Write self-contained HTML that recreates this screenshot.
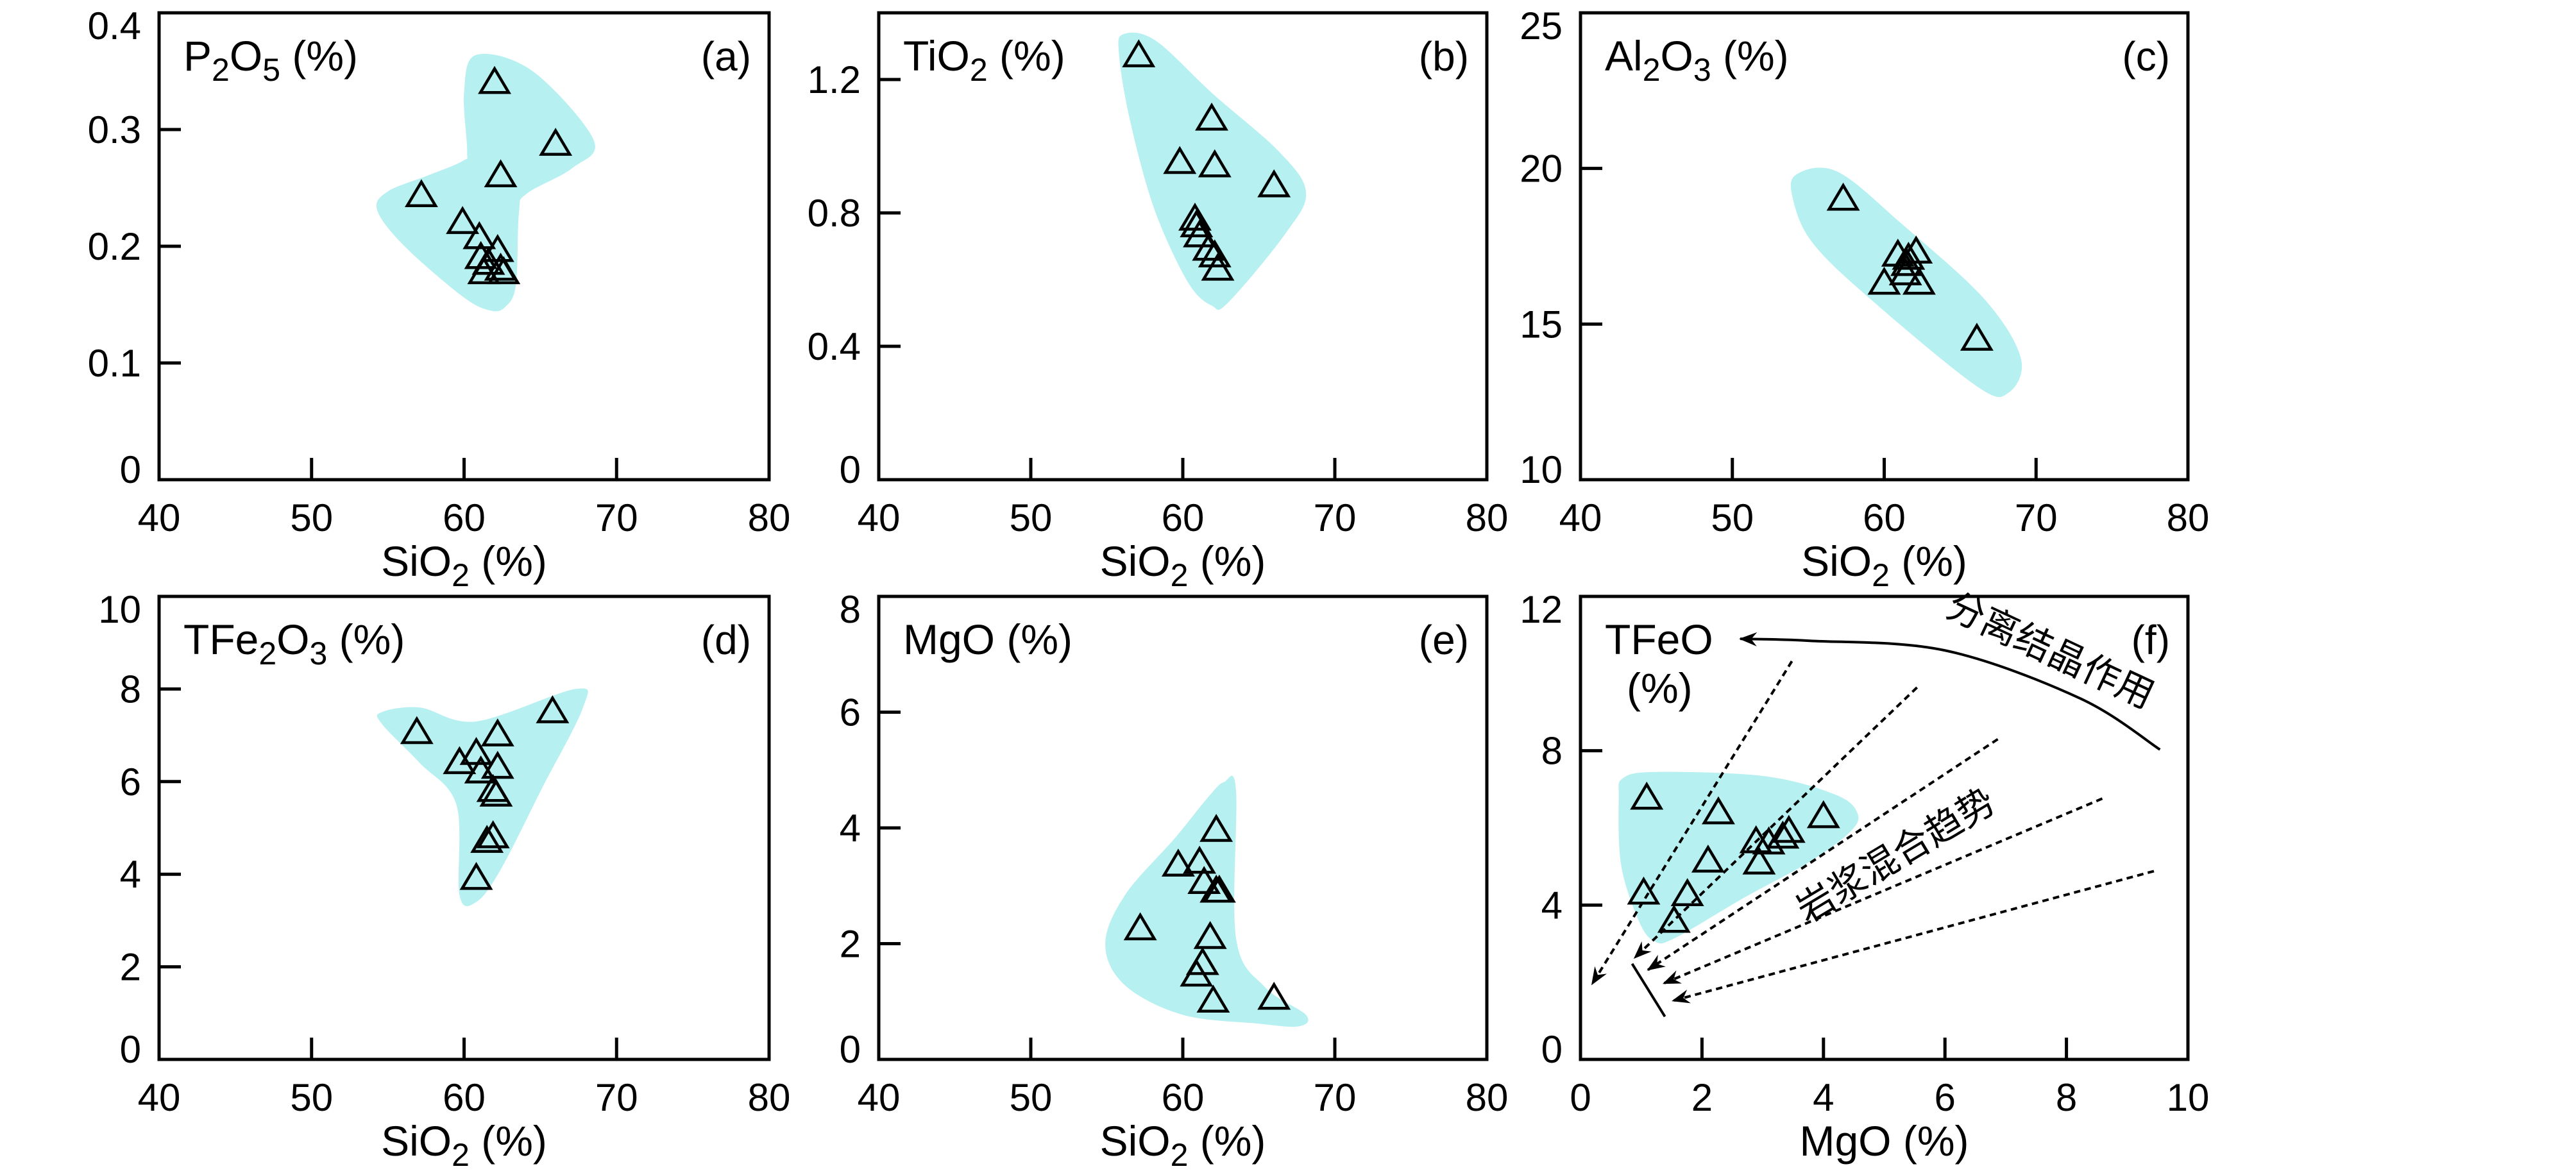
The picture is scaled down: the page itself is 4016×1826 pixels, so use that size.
<!DOCTYPE html>
<html><head><meta charset="utf-8">
<style>
html,body{margin:0;padding:0;background:#fff;}
svg{display:block;}
text{font-family:"Liberation Sans","Noto Sans CJK SC",sans-serif;fill:#000;}
</style></head>
<body>
<svg id="chart" width="4016" height="1826" viewBox="0 0 4016 1826" xmlns="http://www.w3.org/2000/svg">
<defs>
<marker id="arr" markerWidth="40" markerHeight="30" refX="0" refY="15" orient="auto" markerUnits="userSpaceOnUse" viewBox="-30 0 40 30">
<path d="M2,15 L-26,4 L-17,15 L-26,26 Z" fill="#000"/>
</marker>
</defs>
</svg>
<script>
// ---------- data ----------
const aX=[62.0,66.0,62.4,57.2,59.9,61.0,62.2,61.1,61.6,61.3,62.4,62.6];
const aY=[0.34,0.287,0.26,0.243,0.22,0.207,0.196,0.19,0.185,0.177,0.18,0.177];
const bX=[57.1,61.9,59.8,62.1,66.0,60.8,60.9,61.1,61.7,62.1,62.3];
const bY=[1.27,1.08,0.95,0.94,0.88,0.78,0.76,0.73,0.69,0.67,0.63];
const cX=[57.3,60.9,61.6,62.1,60.0,61.4,62.3,61.5,66.1];
const cY=[19.0,17.2,17.1,17.3,16.3,16.6,16.3,16.9,14.5];
const dX=[56.9,59.7,60.8,62.2,65.8,61.1,62.2,61.9,62.1,61.5,61.9,60.8];
const dY=[7.05,6.4,6.6,7.0,7.5,6.2,6.3,5.8,5.7,4.7,4.8,3.9];
const eX=[62.2,59.7,61.1,61.4,62.2,62.4,57.2,61.8,61.3,60.9,62.0,66.0];
const eY=[3.95,3.35,3.4,3.05,2.9,2.9,2.25,2.1,1.65,1.45,1.0,1.05];
const fX=[1.09,2.27,4.0,3.43,3.33,3.1,2.89,2.1,2.94,1.04,1.76,1.54];
const fY=[6.76,6.38,6.28,5.9,5.75,5.6,5.63,5.13,5.08,4.3,4.26,3.57];
// field outlines (data coords)
const aHullX=[60.8,64.5,68.5,67.1,64.1,63.6,63.4,62.7,61.7,59.9,56.1,54.3,55.0,57.5,59.9,60.2,60.0];
const aHullY=[0.364,0.35,0.291,0.267,0.245,0.229,0.167,0.148,0.145,0.157,0.2,0.231,0.247,0.26,0.273,0.282,0.332];
const bHullX=[56.1,58.2,62.0,66.3,68.1,66.8,63.0,61.9,60.3,58.1,56.5,55.8];
const bHullY=[1.336,1.317,1.156,0.985,0.863,0.741,0.532,0.522,0.595,0.815,1.083,1.278];
const cHullX=[54.2,56.9,61.2,66.6,69.0,68.2,66.1,59.1,55.3,54.0];
const cHullY=[19.8,19.9,18.2,15.8,13.9,12.8,13.0,15.8,17.6,19.0];
const dHullX=[54.6,57.1,60.8,67.3,67.8,65.1,62.4,60.8,59.7,59.5,57.1,54.6];
const dHullY=[7.5,7.6,7.3,8.0,7.6,5.85,4.1,3.4,3.55,5.5,6.4,7.25];
const eHullX=[62.7,63.5,63.5,65.4,68.1,67.6,64.9,60.0,56.2,54.9,56.2,59.5,61.6];
const eHullY=[4.79,4.65,2.1,1.25,0.77,0.57,0.62,0.77,1.28,1.99,2.84,3.83,4.51];
const fHullX=[0.7,1.26,3.04,4.2,4.56,4.44,3.78,2.67,1.56,1.22,0.96,0.67,0.63];
const fHullY=[7.29,7.45,7.34,6.86,6.38,5.9,5.13,4.17,3.15,3.06,3.59,5.03,6.76];
// panel f trend lines
const mixStartX=[3.48,5.54,6.87,8.59,9.44];
const mixStartY=[10.32,9.64,8.3,6.76,4.88];
const mixEndX=[0.19,0.89,1.11,1.37,1.52];
const mixEndY=[1.95,2.63,2.32,1.97,1.52];
const fcCurveX=[9.54,8.22,6.0,3.78,2.63];
const fcCurveY=[8.03,9.36,10.6,10.85,10.9];
const endMemberX=[0.85,1.39];
const endMemberY=[2.48,1.11];
// ticks
const siTicks=[50,60,70];
const siLabels=[40,50,60,70,80];
const aTicks=[0.1,0.2,0.3]; const aLabels=["0","0.1","0.2","0.3","0.4"]; const aLabelVals=[0,0.1,0.2,0.3,0.4];
const bTicks=[0.4,0.8,1.2]; const bLabels=["0","0.4","0.8","1.2"]; const bLabelVals=[0,0.4,0.8,1.2];
const cTicks=[15,20]; const cLabels=["10","15","20","25"]; const cLabelVals=[10,15,20,25];
const dTicks=[2,4,6,8]; const dLabels=["0","2","4","6","8","10"]; const dLabelVals=[0,2,4,6,8,10];
const eTicks=[2,4,6]; const eLabels=["0","2","4","6","8"]; const eLabelVals=[0,2,4,6,8];
const fTicks=[4,8]; const fLabels=["0","4","8","12"]; const fLabelVals=[0,4,8,12];
const fXTicks=[2,4,6,8]; const fXLabels=[0,2,4,6,8,10];

const NS="http://www.w3.org/2000/svg";
const svg=document.getElementById('chart');
function mk(tag,attrs,parent){const e=document.createElementNS(NS,tag);for(const k in attrs)e.setAttribute(k,attrs[k]);(parent||svg).appendChild(e);return e;}
function smooth(pts){
  const n=pts.length;let d=`M${pts[0][0]},${pts[0][1]}`;
  for(let i=0;i<n;i++){const p0=pts[(i-1+n)%n],p1=pts[i],p2=pts[(i+1)%n],p3=pts[(i+2)%n];
    const c1=[p1[0]+(p2[0]-p0[0])/6,p1[1]+(p2[1]-p0[1])/6],c2=[p2[0]-(p3[0]-p1[0])/6,p2[1]-(p3[1]-p1[1])/6];
    d+=` C${c1[0]},${c1[1]} ${c2[0]},${c2[1]} ${p2[0]},${p2[1]}`;}
  return d+'Z';
}
function panel(o){
  const g=mk('g',{});
  
  
  const sx=v=>o.x0+(v-o.xmin)/(o.xmax-o.xmin)*(o.x1-o.x0);
  const sy=v=>o.y1-(v-o.ymin)/(o.ymax-o.ymin)*(o.y1-o.y0);
  const hp=o.hx.map((v,i)=>[sx(v),sy(o.hy[i])]);
  const hull=mk('path',{d:smooth(hp),fill:'#b6f0f0',stroke:'none'},g);
  
  
  const box=mk('rect',{x:o.x0,y:o.y0,width:o.x1-o.x0,height:o.y1-o.y0,fill:'none',stroke:'#000','stroke-width':5},g);
  
  
  o.xt.forEach(v=>{const t=mk('line',{x1:sx(v),x2:sx(v),y1:o.y1,y2:o.y1-34,stroke:'#000','stroke-width':5},g);
    
    });
  o.yt.forEach(v=>{const t=mk('line',{x1:o.x0,x2:o.x0+34,y1:sy(v),y2:sy(v),stroke:'#000','stroke-width':5},g);
    
    });
  o.xl.forEach(v=>{const t=mk('text',{x:sx(v),y:o.y1+80,'font-size':60,'text-anchor':'middle'},g);t.textContent=v;
    
    });
  o.yl.forEach((s,i)=>{const yy=Math.min(Math.max(sy(o.ylv[i]),o.y0+20),o.y1-16);
    const t=mk('text',{x:o.x0-28,y:yy+21,'font-size':60,'text-anchor':'end'},g);t.textContent=s;
    
    });
  const xt=mk('text',{x:(o.x0+o.x1)/2,y:o.y1+150,'font-size':66,'text-anchor':'middle'},g);
  xt.innerHTML=o.xtitle;
  
  
  const yt=mk('text',{x:o.x0+38,y:o.y0+90,'font-size':66},g);
  yt.innerHTML=o.ytitle;
  
  
  const pl=mk('text',{x:o.x1-28,y:o.y0+90,'font-size':64,'text-anchor':'end'},g);
  pl.textContent='('+o.id+')';
  
  
  o.px.forEach((v,i)=>{const cx=sx(v),cy=sy(o.py[i]);
    const p=mk('path',{d:`M${cx},${cy-22} L${cx+22},${cy+15} L${cx-22},${cy+15} Z`,fill:'none',stroke:'#000','stroke-width':4.5,'stroke-linejoin':'miter'},g);
    
    });
  return {g,sx,sy};
}
const SUB=(s)=>`<tspan dy="16" font-size="50">${s}</tspan><tspan dy="-16">`;
const siT=`SiO${SUB('2')} (%)</tspan>`;
const C=[[248,1199],[1370,2318],[2464,3411]];
const R1=[20,748],R2=[930,1652];
panel({id:'a',x0:C[0][0],x1:C[0][1],y0:R1[0],y1:R1[1],xmin:40,xmax:80,ymin:0,ymax:0.4,xt:siTicks,yt:aTicks,xl:siLabels,yl:aLabels,ylv:aLabelVals,xtitle:siT,ytitle:`P${SUB('2')}O</tspan>${SUB('5')} (%)</tspan>`,hx:aHullX,hy:aHullY,px:aX,py:aY});
panel({id:'b',x0:C[1][0],x1:C[1][1],y0:R1[0],y1:R1[1],xmin:40,xmax:80,ymin:0,ymax:1.4,xt:siTicks,yt:bTicks,xl:siLabels,yl:bLabels,ylv:bLabelVals,xtitle:siT,ytitle:`TiO${SUB('2')} (%)</tspan>`,hx:bHullX,hy:bHullY,px:bX,py:bY});
panel({id:'c',x0:C[2][0],x1:C[2][1],y0:R1[0],y1:R1[1],xmin:40,xmax:80,ymin:10,ymax:25,xt:siTicks,yt:cTicks,xl:siLabels,yl:cLabels,ylv:cLabelVals,xtitle:siT,ytitle:`Al${SUB('2')}O</tspan>${SUB('3')} (%)</tspan>`,hx:cHullX,hy:cHullY,px:cX,py:cY});
panel({id:'d',x0:C[0][0],x1:C[0][1],y0:R2[0],y1:R2[1],xmin:40,xmax:80,ymin:0,ymax:10,xt:siTicks,yt:dTicks,xl:siLabels,yl:dLabels,ylv:dLabelVals,xtitle:siT,ytitle:`TFe${SUB('2')}O</tspan>${SUB('3')} (%)</tspan>`,hx:dHullX,hy:dHullY,px:dX,py:dY});
panel({id:'e',x0:C[1][0],x1:C[1][1],y0:R2[0],y1:R2[1],xmin:40,xmax:80,ymin:0,ymax:8,xt:siTicks,yt:eTicks,xl:siLabels,yl:eLabels,ylv:eLabelVals,xtitle:siT,ytitle:`MgO (%)`,hx:eHullX,hy:eHullY,px:eX,py:eY});
const F=panel({id:'f',x0:C[2][0],x1:C[2][1],y0:R2[0],y1:R2[1],xmin:0,xmax:10,ymin:0,ymax:12,xt:fXTicks,yt:fTicks,xl:fXLabels,yl:fLabels,ylv:fLabelVals,xtitle:'MgO (%)',ytitle:`TFeO<tspan x="2536" dy="76">(%)</tspan>`,hx:fHullX,hy:fHullY,px:fX,py:fY});
mixStartX.forEach((v,i)=>{const l=mk('line',{x1:F.sx(v),y1:F.sy(mixStartY[i]),x2:F.sx(mixEndX[i]),y2:F.sy(mixEndY[i]),stroke:'#000','stroke-width':4,'stroke-dasharray':'10 7','marker-end':'url(#arr)'},F.g);
  
  });
const cp=fcCurveX.map((v,i)=>[F.sx(v),F.sy(fcCurveY[i])]);
let cd=`M${cp[0][0]},${cp[0][1]}`;
for(let i=0;i<cp.length-1;i++){const p0=cp[Math.max(i-1,0)],p1=cp[i],p2=cp[i+1],p3=cp[Math.min(i+2,cp.length-1)];
  cd+=` C${p1[0]+(p2[0]-p0[0])/6},${p1[1]+(p2[1]-p0[1])/6} ${p2[0]-(p3[0]-p1[0])/6},${p2[1]-(p3[1]-p1[1])/6} ${p2[0]},${p2[1]}`;}
const fc=mk('path',{d:cd,fill:'none',stroke:'#000','stroke-width':4,'marker-end':'url(#arr)'},F.g);


const em=mk('line',{x1:F.sx(endMemberX[0]),y1:F.sy(endMemberY[0]),x2:F.sx(endMemberX[1]),y2:F.sy(endMemberY[1]),stroke:'#000','stroke-width':4},F.g);


const t1=mk('text',{x:0,y:0,'font-size':58,transform:`translate(${F.sx(7.65)},${F.sy(10.3)}) rotate(25)`,'text-anchor':'middle'},F.g);
t1.textContent='分离结晶作用';


const t2=mk('text',{x:0,y:0,'font-size':58,transform:`translate(${F.sx(5.3)},${F.sy(5.0)}) rotate(-31)`,'text-anchor':'middle'},F.g);
t2.textContent='岩浆混合趋势';


</script>
</body></html>
